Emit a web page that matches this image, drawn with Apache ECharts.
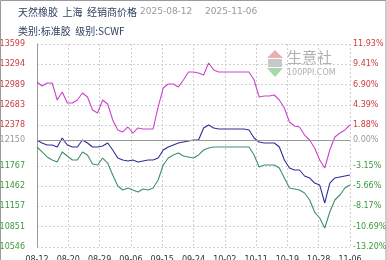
<!DOCTYPE html>
<html><head><meta charset="utf-8">
<script src="https://cdn.jsdelivr.net/npm/echarts@6/dist/echarts.min.js"></script>
<style>html,body{margin:0;padding:0;background:#fff}#c{width:387px;height:260px}</style>
</head><body><div id="c"></div>
<script>
// ---- data ----
const xLabels = ['08-12','08-20','08-29','09-06','09-15','09-24','10-02','10-11','10-19','10-28','11-06'];
const leftLabels = ['10546','10851','11157','11462','11767','','12378','12683','12989','13294','13599'];
const rightLabels = ['-13.20%','-10.69%','-8.17%','-5.66%','-3.15%','','1.88%','4.39%','6.90%','9.41%','11.93%'];
const baseValue = 12150;
const baseLabel = '12150';
const basePct = '0.00%';
const yMin = 10546, yMax = 13599;
const magenta = [13028,12967,13012,13012,12757,12877,12712,12712,12757,12862,12802,12606,12561,12757,12697,12456,12306,12276,12351,12260,12336,12321,12321,12321,12652,12937,12997,12997,12952,13058,13178,13178,13163,13133,13313,13208,13178,13178,13178,13178,13178,13178,13178,13058,12802,12817,12817,12832,12757,12636,12426,12366,12351,12230,12155,12035,11854,11734,12005,12200,12260,12306,12381];
const blue = [12150,12110,12080,12080,12050,12185,12080,12050,12050,12155,12110,12050,12050,12065,12110,12005,11884,11854,11839,11854,11824,11839,11854,11854,11884,12005,12050,12080,12110,12125,12140,12155,12155,12336,12381,12336,12321,12321,12321,12321,12321,12321,12306,12185,12125,12110,12110,12110,12050,11854,11734,11704,11704,11614,11584,11508,11478,11208,11508,11584,11599,11614,11629];
const green = [12050,11975,11900,11854,11824,11975,11915,11854,11854,11975,11930,11794,11779,11884,11809,11629,11463,11403,11433,11403,11373,11418,11403,11433,11554,11779,11884,11930,11960,11915,11900,11884,11930,12005,12035,12050,12050,12050,12050,12050,12050,12050,12050,11930,11749,11779,11779,11779,11734,11584,11433,11418,11403,11358,11253,11072,10982,10832,11072,11253,11328,11433,11478];

const N = magenta.length;
const yStep = (yMax - yMin) / 10;
const xStep = (N - 1) / 10;
const pairs = arr => arr.map((v, i) => [i, v]);
const idxOf = v => Math.round((v - yMin) / yStep);
const colOf = i => i > 5 ? '#cc3b3b' : (i < 5 ? '#3a9a3a' : '#999');

const chart = echarts.init(document.getElementById('c'), null, {renderer: 'canvas'});
const gridCol = Array.from({length: 11}, (_, i) => i === 5 ? 'rgba(0,0,0,0)' : '#d0d0d0');
chart.setOption({
  animation: false,
  backgroundColor: '#fff',
  grid: {left: 37, right: 37, top: 44, bottom: 13, containLabel: false, outerBoundsMode: 'none'},
  xAxis: {
    type: 'value', min: 0, max: N - 1, interval: xStep,
    axisLine: {show: false}, axisTick: {show: false},
    splitLine: {show: true, lineStyle: {type: [2, 2], color: '#cfcfcf', width: 1}},
    axisLabel: {margin: 9, fontSize: 8, color: '#333', fontFamily: 'DejaVu Sans',
      formatter: v => xLabels[Math.round(v / xStep)] || ''}
  },
  yAxis: [{
    type: 'value', min: yMin, max: yMax, interval: yStep, position: 'left',
    axisLine: {show: true, lineStyle: {color: '#999'}}, axisTick: {show: false},
    splitLine: {show: true, lineStyle: {type: [2, 2], color: gridCol, width: 1}},
    axisLabel: {margin: 12, fontSize: 8, fontFamily: 'DejaVu Sans',
      formatter: v => leftLabels[idxOf(v)], color: (v) => colOf(idxOf(v))}
  }, {
    type: 'value', min: yMin, max: yMax, interval: yStep, position: 'right',
    axisLine: {show: false}, axisTick: {show: false}, splitLine: {show: false},
    axisLabel: {margin: 3, fontSize: 8, fontFamily: 'DejaVu Sans',
      formatter: v => rightLabels[idxOf(v)], color: (v) => colOf(idxOf(v))}
  }],
  series: [
    {type: 'line', data: [], z: 1, silent: true,
     markLine: {symbol: 'none', silent: true, lineStyle: {color: '#999', type: 'solid', width: 1},
       data: [
         {yAxis: baseValue, label: {position: 'start', formatter: baseLabel, color: '#999', fontSize: 8, distance: 12, fontFamily: 'DejaVu Sans'}},
         {yAxis: baseValue, label: {position: 'end', formatter: basePct, color: '#999', fontSize: 8, distance: 3, fontFamily: 'DejaVu Sans'}}
       ]}},
    {type: 'line', data: pairs(magenta), showSymbol: false, z: 3,
     lineStyle: {color: '#cc44cc', width: 1.1}},
    {type: 'line', data: pairs(blue), showSymbol: false, z: 3,
     lineStyle: {color: '#2e2e9c', width: 1.1}},
    {type: 'line', data: pairs(green), showSymbol: false, z: 3,
     lineStyle: {color: '#3f8f6e', width: 1.1}}
  ],
  graphic: [
    {type: 'rect', shape: {x: 0.5, y: 0.5, width: 385.5, height: 262}, style: {fill: 'none', stroke: '#9a9a9a', lineWidth: 1}, z: 10},
    {type: 'text', left: 18, top: 7, style: {text: '天然橡胶  上海  经销商价格', fill: '#2f3f5f', font: '10px "Noto Sans CJK SC"'}},
    {type: 'text', left: 140, top: 7, style: {text: '2025-08-12', fill: '#999', font: '9px "DejaVu Sans"'}},
    {type: 'text', left: 205, top: 7, style: {text: '2025-11-06', fill: '#999', font: '9px "DejaVu Sans"'}},
    {type: 'text', left: 18, top: 26, style: {text: '类别:标准胶  级别:SCWF', fill: '#2f3f5f', font: '10px "Noto Sans CJK SC"'}},
    {type: 'polygon', shape: {points: [[275, 50], [283, 58], [267, 58]]}, style: {fill: '#eab0b0'}},
    {type: 'rect', shape: {x: 268, y: 59, width: 14, height: 8}, style: {fill: '#c8c8c8'}},
    {type: 'polygon', shape: {points: [[267, 68], [283, 68], [275, 77]]}, style: {fill: '#a8d8a8'}},
    {type: 'text', left: 287, top: 50, style: {text: '生意社', fill: '#b0b0b0', font: '15px "Noto Sans CJK SC"'}},
    {type: 'text', left: 287, top: 69, style: {text: '100PPI.COM', fill: '#b0b0b0', font: '8px "DejaVu Sans"'}}
  ]
});
</script></body></html>
